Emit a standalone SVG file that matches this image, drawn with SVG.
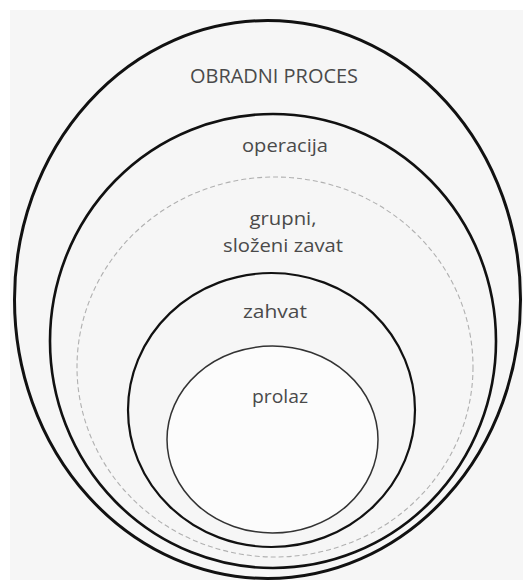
<svg xmlns="http://www.w3.org/2000/svg" width="523" height="580" viewBox="0 0 523 580">
<style>
.lbl{font-family:"Open Sans","Liberation Sans",sans-serif;font-size:18.5px;fill:#4a4a4a;text-anchor:middle}
.ring{fill:none;stroke:#111}
</style>
<rect x="0" y="0" width="523" height="580" fill="#ffffff"/>
<rect x="10" y="10" width="513" height="570" fill="#f6f6f6"/>
<g id="obradni-proces">
<ellipse class="ring" cx="267.5" cy="299.5" rx="253" ry="279" stroke-width="3"/>
<text class="lbl" x="274" y="83" style="font-size:20px" textLength="168" lengthAdjust="spacingAndGlyphs">OBRADNI PROCES</text>
</g>
<g id="operacija">
<ellipse class="ring" cx="273" cy="341" rx="223" ry="227" stroke-width="2.6"/>
<text class="lbl" x="285" y="152" textLength="86" lengthAdjust="spacingAndGlyphs">operacija</text>
</g>
<g id="grupni-zavat">
<ellipse cx="275" cy="367" rx="198" ry="190" fill="none" stroke="#b0b0b0" stroke-width="1.1" stroke-dasharray="5 3"/>
<text class="lbl" x="283" y="225" textLength="67" lengthAdjust="spacingAndGlyphs">grupni,</text>
<text class="lbl" x="283" y="252" textLength="120" lengthAdjust="spacingAndGlyphs">složeni zavat</text>
</g>
<g id="zahvat">
<ellipse class="ring" cx="271.5" cy="410" rx="143.5" ry="137" stroke-width="2.2"/>
<text class="lbl" x="275" y="318" textLength="64" lengthAdjust="spacingAndGlyphs">zahvat</text>
</g>
<g id="prolaz">
<ellipse cx="272.5" cy="439.5" rx="105.5" ry="93.5" fill="#fcfcfc" stroke="#333" stroke-width="1.5"/>
<text class="lbl" x="280" y="403" textLength="56" lengthAdjust="spacingAndGlyphs">prolaz</text>
</g>
<g id="connectors"></g>
</svg>
